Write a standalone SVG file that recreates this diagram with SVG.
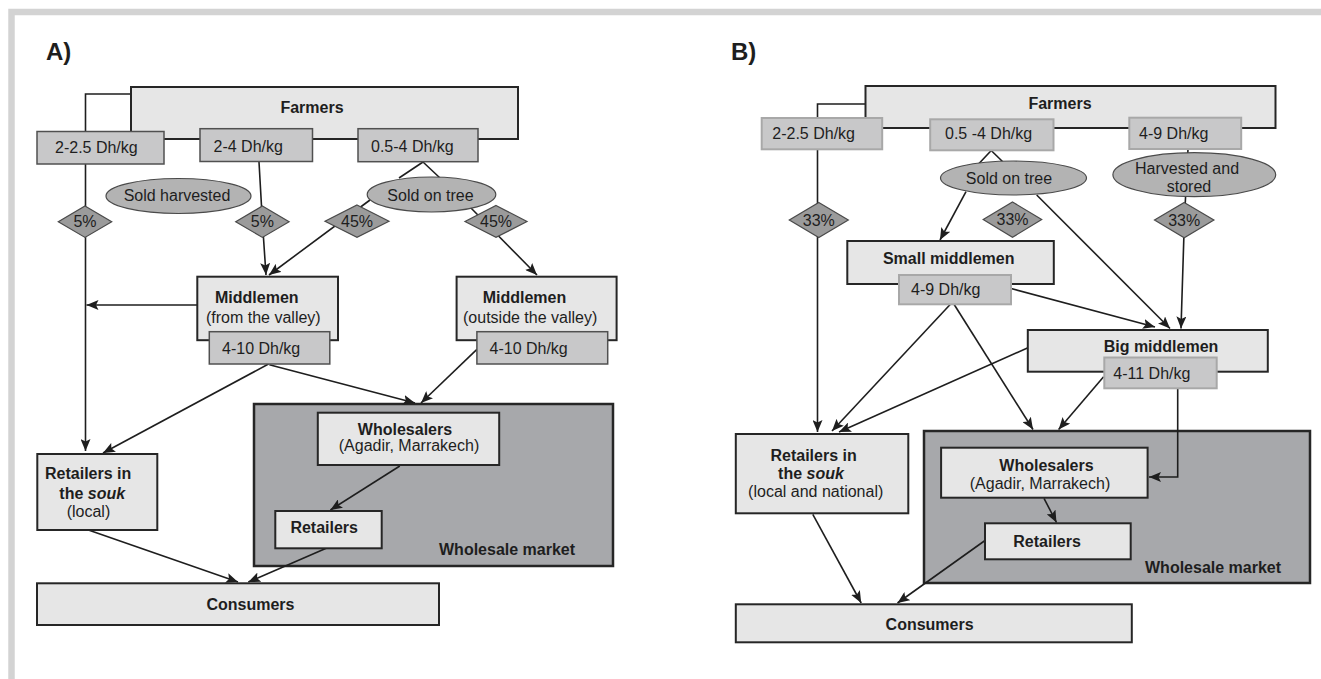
<svg xmlns="http://www.w3.org/2000/svg" width="1321" height="679" viewBox="0 0 1321 679">
<style>
text{font-family:"Liberation Sans",Arial,Helvetica,sans-serif;font-size:16px;fill:#1e1e1e}
.b{font-weight:bold}
.c{text-anchor:middle}
.h{font-size:24px;font-weight:bold}
.box{fill:#e6e6e6;stroke:#262626;stroke-width:2}
.mkt{fill:#a7a8ab;stroke:#262626;stroke-width:2.5}
.pa{fill:#c8c8c9;stroke:#505050;stroke-width:1.5}
.pb{fill:#c8c8c9;stroke:#a8a8a8;stroke-width:2}
.oval{fill:#b3b3b3;stroke:#4a4a4a;stroke-width:1.2}
.dia{fill:#9b9b9b;stroke:#4a4a4a;stroke-width:1.2}
.ln{fill:none;stroke:#1e1e1e;stroke-width:1.6}
.ar{marker-end:url(#ah)}
.frame{fill:none;stroke:#d3d3d3;stroke-width:6.5}
</style>
<defs>
<marker id="ah" markerUnits="userSpaceOnUse" markerWidth="13" markerHeight="10" refX="12" refY="5" orient="auto">
<path d="M0,0 L12,5 L0,10 L2.5,5 z" fill="#1e1e1e"/>
</marker>
</defs>
<rect width="1321" height="679" fill="#ffffff"/>
<path class="frame" d="M11.5,679 V12 H1321"/>
<text class="h" x="46" y="60">A)</text>
<text class="h" x="731" y="60">B)</text>

<g id="A-wholesale-market"><rect class="mkt" x="254" y="404" width="359" height="162"/><text class="b" x="439" y="555">Wholesale market</text></g>
<g id="B-wholesale-market"><rect class="mkt" x="924" y="431" width="386" height="152"/><text class="b" x="1145" y="573">Wholesale market</text></g>

<g id="connectors">
<polyline class="ln ar" points="131,94 85.5,94 85.5,451"/>
<polyline class="ln ar" points="259,162 262.4,221.7 266,275"/>
<line class="ln" x1="423" y1="162" x2="399" y2="178"/>
<line class="ln" x1="423" y1="162" x2="440" y2="178"/>
<line class="ln ar" x1="370" y1="200" x2="269" y2="275"/>
<line class="ln ar" x1="470" y1="207" x2="537" y2="275"/>
<line class="ln ar" x1="197" y1="305" x2="86.5" y2="305"/>
<line class="ln ar" x1="268.5" y1="364" x2="103" y2="453"/>
<line class="ln ar" x1="269.4" y1="364.7" x2="415" y2="403"/>
<line class="ln ar" x1="476.9" y1="349.3" x2="421" y2="403"/>
<line class="ln ar" x1="399.8" y1="466" x2="330.4" y2="510"/>
<line class="ln ar" x1="88.4" y1="530" x2="238" y2="582"/>
<line class="ln ar" x1="326.2" y1="548.3" x2="248.3" y2="582"/>

<polyline class="ln ar" points="865.5,104 817.5,104 817.5,432"/>
<line class="ln" x1="991.2" y1="150.5" x2="978.6" y2="164"/>
<line class="ln" x1="991.2" y1="150.5" x2="1003" y2="162"/>
<line class="ln ar" x1="966" y1="191.7" x2="940" y2="240"/>
<line class="ln ar" x1="1036.7" y1="195" x2="1170" y2="328.5"/>
<polyline class="ln ar" points="1188,149 1184.4,220 1181,328.5"/>
<line class="ln ar" x1="1010.2" y1="288.3" x2="1155" y2="327"/>
<line class="ln ar" x1="950.4" y1="304.3" x2="832" y2="431"/>
<line class="ln ar" x1="954" y1="304.3" x2="1033" y2="429.5"/>
<line class="ln ar" x1="1027.4" y1="348" x2="839" y2="432"/>
<line class="ln ar" x1="1103.6" y1="376.7" x2="1058.6" y2="429.5"/>
<polyline class="ln ar" points="1177.7,388.3 1177.7,477 1149,477"/>
<line class="ln ar" x1="1044" y1="498.3" x2="1056.5" y2="522.5"/>
<line class="ln ar" x1="812.8" y1="514.3" x2="861.2" y2="603"/>
<line class="ln ar" x1="984.3" y1="541" x2="897.5" y2="603"/>
</g>

<g id="A-farmers"><rect class="box" x="131" y="87" width="387" height="52"/><text class="b c" x="312" y="113">Farmers</text></g>
<g id="A-price-1"><rect class="pa" x="37" y="131.5" width="127" height="32.5"/><text x="55" y="153">2-2.5 Dh/kg</text></g>
<g id="A-price-2"><rect class="pa" x="200" y="128.7" width="112.5" height="32.8"/><text x="213.5" y="152">2-4 Dh/kg</text></g>
<g id="A-price-3"><rect class="pa" x="358" y="128.7" width="120" height="33"/><text x="371" y="152">0.5-4 Dh/kg</text></g>
<g id="A-sold-harvested"><ellipse class="oval" cx="178.5" cy="196" rx="72.5" ry="17.5"/><text class="c" x="177" y="201">Sold harvested</text></g>
<g id="A-sold-on-tree"><ellipse class="oval" cx="431.5" cy="194.5" rx="64.3" ry="17.5"/><text class="c" x="430.5" y="200.5">Sold on tree</text></g>
<g id="A-pct-1"><polygon class="dia" points="85,206 111.7,221.7 85,237.4 58.3,221.7"/><text class="c" x="85" y="227">5%</text></g>
<g id="A-pct-2"><polygon class="dia" points="262.4,206 289.1,221.7 262.4,237.4 235.7,221.7"/><text class="c" x="262.4" y="227">5%</text></g>
<g id="A-pct-3"><polygon class="dia" points="357,205 389,221.2 357,237.4 325,221.2"/><text class="c" x="357" y="227">45%</text></g>
<g id="A-pct-4"><polygon class="dia" points="496,205.5 527,221.5 496,237.4 465,221.5"/><text class="c" x="496" y="227">45%</text></g>
<g id="A-middlemen-valley"><rect class="box" x="197.3" y="276.7" width="140.7" height="63.5"/><text class="b" x="215" y="302.5">Middlemen</text><text x="206" y="323">(from the valley)</text></g>
<g id="A-price-4"><rect class="pa" x="209.3" y="331.7" width="120.5" height="32.3"/><text x="222" y="353.5">4-10 Dh/kg</text></g>
<g id="A-middlemen-outside"><rect class="box" x="456.6" y="276.7" width="160" height="63.5"/><text class="b" x="482.7" y="302.5">Middlemen</text><text x="463" y="323">(outside the valley)</text></g>
<g id="A-price-5"><rect class="pa" x="476.9" y="331.7" width="130.8" height="32.3"/><text x="489.5" y="353.5">4-10 Dh/kg</text></g>
<g id="A-retailers-souk"><rect class="box" x="37.3" y="454" width="120" height="76"/><text class="b" x="45" y="478.5">Retailers in</text><text class="b" x="59.3" y="499.3">the <tspan font-style="italic">souk</tspan></text><text x="66.7" y="516.7">(local)</text></g>
<g id="A-wholesalers"><rect class="box" x="317.8" y="412.7" width="181.4" height="52.3"/><text class="b c" x="405" y="435">Wholesalers</text><text class="c" x="409" y="451">(Agadir, Marrakech)</text></g>
<g id="A-retailers"><rect class="box" x="275.3" y="511" width="106.4" height="37.3"/><text class="b" x="290.4" y="533.3">Retailers</text></g>
<g id="A-consumers"><rect class="box" x="37" y="583.3" width="402" height="41.7"/><text class="b c" x="250.4" y="610">Consumers</text></g>

<g id="B-farmers"><rect class="box" x="865.5" y="86" width="410" height="42"/><text class="b c" x="1060" y="108.7">Farmers</text></g>
<g id="B-price-1"><rect class="pb" x="761.7" y="118" width="120.5" height="31.3"/><text x="772.3" y="139.3">2-2.5 Dh/kg</text></g>
<g id="B-price-2"><rect class="pb" x="930.2" y="119.3" width="123.3" height="31"/><text x="945" y="139.3">0.5 -4 Dh/kg</text></g>
<g id="B-price-3"><rect class="pb" x="1129.3" y="117.7" width="111.9" height="31.3"/><text x="1139" y="139.3">4-9 Dh/kg</text></g>
<g id="B-sold-on-tree"><ellipse class="oval" cx="1013.5" cy="178" rx="73" ry="17"/><text class="c" x="1009" y="183.5">Sold on tree</text></g>
<g id="B-harvested-stored"><ellipse class="oval" cx="1194.3" cy="174.7" rx="81.4" ry="22"/><text class="c" x="1187" y="174.3">Harvested and</text><text class="c" x="1189" y="191.7">stored</text></g>
<g id="B-pct-1"><polygon class="dia" points="818.8,202.5 848.3,220 818.8,237.5 789.3,220"/><text class="c" x="818.8" y="225.5">33%</text></g>
<g id="B-pct-2"><polygon class="dia" points="1012.5,202 1041.7,219.5 1012.5,237.3 983.2,219.5"/><text class="c" x="1012.5" y="225">33%</text></g>
<g id="B-pct-3"><polygon class="dia" points="1184.2,202.5 1213.9,220 1184.2,237.7 1154.5,220"/><text class="c" x="1184.2" y="225.5">33%</text></g>
<g id="B-small-middlemen"><rect class="box" x="847.3" y="241" width="206.5" height="43"/><text class="b c" x="948.7" y="264.3">Small middlemen</text></g>
<g id="B-price-4"><rect class="pb" x="899" y="275" width="112" height="29.3"/><text x="911" y="294.5">4-9 Dh/kg</text></g>
<g id="B-big-middlemen"><rect class="box" x="1027.8" y="330" width="240" height="41.7"/><text class="b c" x="1161" y="352">Big middlemen</text></g>
<g id="B-price-5"><rect class="pb" x="1104.3" y="357.5" width="112.4" height="30.8"/><text x="1113.3" y="379">4-11 Dh/kg</text></g>
<g id="B-retailers-souk"><rect class="box" x="735.8" y="434" width="172.5" height="79.3"/><text class="b c" x="813.6" y="461">Retailers in</text><text class="b c" x="811" y="479">the <tspan font-style="italic">souk</tspan></text><text class="c" x="815.7" y="496.7">(local and national)</text></g>
<g id="B-wholesalers"><rect class="box" x="941.1" y="447.7" width="206.5" height="50"/><text class="b c" x="1046.5" y="471">Wholesalers</text><text class="c" x="1040" y="489.3">(Agadir, Marrakech)</text></g>
<g id="B-retailers"><rect class="box" x="985" y="523.3" width="145.7" height="36"/><text class="b" x="1013.3" y="546.7">Retailers</text></g>
<g id="B-consumers"><rect class="box" x="735.8" y="604.3" width="396" height="38"/><text class="b c" x="929.6" y="630.3">Consumers</text></g>
</svg>
